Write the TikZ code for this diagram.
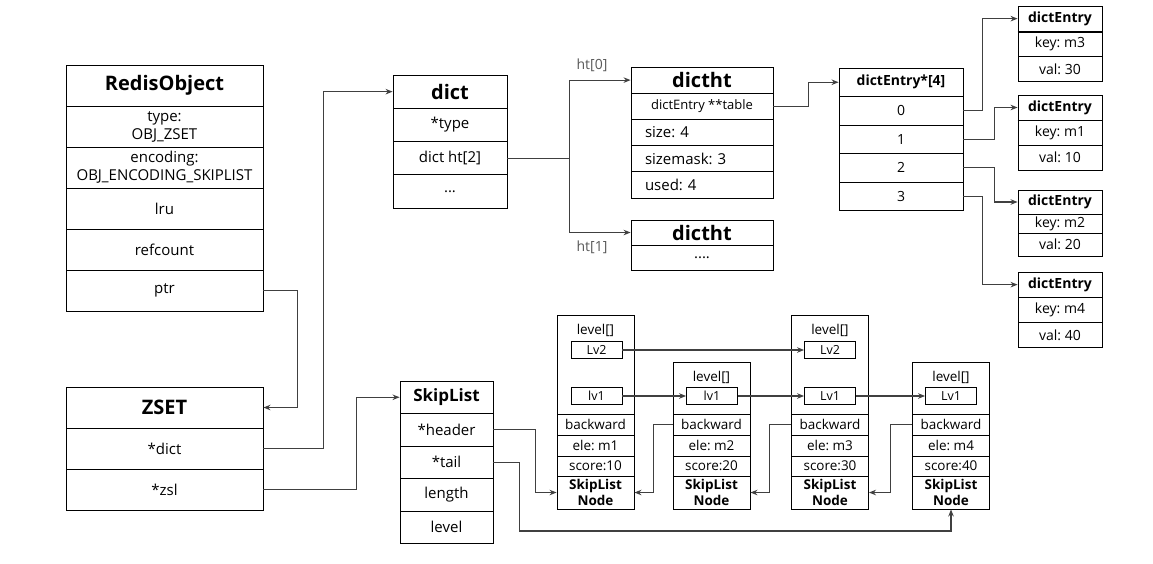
\documentclass[tikz,border=0pt]{standalone}
\usepackage{fontspec}
\setmainfont{Open Sans}
\usetikzlibrary{arrows.meta}
\frenchspacing
\begin{document}
\begin{tikzpicture}[x=1pt,y=-1pt,
  >={Stealth[length=7pt,width=5.5pt]},
  cell/.style={draw, line width=0.9pt, inner sep=0pt, align=center, font=\fontsize{15}{18}\selectfont},
  bighead/.style={font=\bfseries\fontsize{20}{24}\selectfont},
  objcell/.style={cell, minimum width=197, minimum height=41},
  slcell/.style={cell, minimum width=93, minimum height=32.5},
  dictcell/.style={cell, minimum width=114, minimum height=33.3},
  htcell/.style={cell, minimum width=142, minimum height=26.2},
  htleft/.style={htcell, align=left, inner xsep=14pt, text width=114pt},
  arrcell/.style={cell, minimum width=124, minimum height=28.5, font=\fontsize{14}{17}\selectfont},
  entcell/.style={cell, minimum width=84, minimum height=25.3, font=\fontsize{14}{17}\selectfont},
  enthead/.style={font=\bfseries\fontsize{14}{17}\selectfont},
  nodecell/.style={cell, minimum width=77, font=\fontsize{13.5}{16}\selectfont},
  lvcell/.style={cell, minimum width=51, minimum height=17, font=\fontsize{12.5}{15}\selectfont},
  link/.style={draw=black!75, line width=1.1pt},
  txt/.style={inner sep=0pt, font=\fontsize{14}{17}\selectfont}
]
\useasboundingbox (0,0) rectangle (1153,563);

% RedisObject
\node[objcell, bighead] (robj) at (164.5,85.5) {RedisObject};
\node[objcell] (rtype) at (164.5,126.5) {type:\\OBJ\_ZSET};
\node[objcell] (renc) at (164.5,167.5) {encoding:\\OBJ\_ENCODING\_SKIPLIST};
\node[objcell] (rlru) at (164.5,208.5) {lru};
\node[objcell] (rref) at (164.5,249.5) {refcount};
\node[objcell] (rptr) at (164.5,290.5) {ptr};

% ZSET
\node[objcell, bighead] (zset) at (164.5,407.5) {ZSET};
\node[objcell] (zdict) at (164.5,448.5) {*dict};
\node[objcell] (zzsl) at (164.5,489.5) {*zsl};

% SkipList
\node[slcell, font=\bfseries\fontsize{17}{20}\selectfont] (slist) at (446.5,397.25) {SkipList};
\node[slcell] (slhead) at (446.5,429.75) {*header};
\node[slcell] (sltail) at (446.5,462.25) {*tail};
\node[slcell] (sllen) at (446.5,494.75) {length};
\node[slcell] (sllvl) at (446.5,527.25) {level};

% dict
\node[dictcell, bighead] (dict) at (450,91.65) {dict};
\node[dictcell] (dtype) at (450,124.95) {*type};
\node[dictcell] (dht) at (450,158.25) {dict ht[2]};
\node[dictcell] (dmore) at (450,191.55) {...};

% dictht
\node[htcell, bighead] (ht0) at (702,80.1) {dictht};
\node[htcell, font=\fontsize{13}{16}\selectfont] (httable) at (702,106.3) {dictEntry **table};
\node[htleft] (htsize) at (702,132.5) {size: 4};
\node[htleft] (htmask) at (702,158.7) {sizemask: 3};
\node[htleft] (htused) at (702,184.9) {used: 4};
\node[htcell, minimum height=25, bighead] (ht1) at (702,232.5) {dictht};
\node[htcell, minimum height=25] (ht1more) at (702,257.5) {....};
\node[txt, text=black!65] (ht0lbl) at (592,65) {ht[0]};
\node[txt, text=black!65] (ht1lbl) at (592,247) {ht[1]};

% dictEntry*[4]
\node[arrcell, enthead] (tbl) at (901,82.25) {dictEntry*[4]};
\node[arrcell] (slot0) at (901,110.75) {0};
\node[arrcell] (slot1) at (901,139.25) {1};
\node[arrcell] (slot2) at (901,167.75) {2};
\node[arrcell] (slot3) at (901,196.25) {3};

% dictEntry
\node[entcell, enthead] (ent3) at (1060,18.65) {dictEntry};
\node[entcell] (ent3k) at (1060,43.95) {key: m3};
\node[entcell] (ent3v) at (1060,69.25) {val: 30};
\node[entcell, minimum height=25, enthead] (ent1) at (1060,107.5) {dictEntry};
\node[entcell, minimum height=25] (ent1k) at (1060,132.5) {key: m1};
\node[entcell, minimum height=25] (ent1v) at (1060,157.5) {val: 10};
\node[entcell, minimum height=24, enthead] (ent2) at (1060,202) {dictEntry};
\node[entcell, minimum height=19] (ent2k) at (1060,223.5) {key: m2};
\node[entcell, minimum height=23] (ent2v) at (1060,244.5) {val: 20};
\node[entcell, enthead] (ent4) at (1060,284.65) {dictEntry};
\node[entcell] (ent4k) at (1060,309.95) {key: m4};
\node[entcell] (ent4v) at (1060,335.25) {val: 40};
\draw[line width=1.8pt] (ent3.south west) -- (ent3.south east);
\draw[line width=1.8pt] (ent1.south west) -- (ent1.south east);

% skiplist nodes
\node[nodecell, minimum height=99] (n1lvl) at (595.5,364.5) {};
\node[nodecell, minimum height=52] (n2lvl) at (711.5,388) {};
\node[nodecell, minimum height=99] (n3lvl) at (830,364.5) {};
\node[nodecell, minimum height=52] (n4lvl) at (951,388) {};
\node[txt, font=\fontsize{13.5}{16}\selectfont] (n1lbl) at (595.5,330) {level[]};
\node[txt, font=\fontsize{13.5}{16}\selectfont] (n2lbl) at (711.5,377) {level[]};
\node[txt, font=\fontsize{13.5}{16}\selectfont] (n3lbl) at (830,330) {level[]};
\node[txt, font=\fontsize{13.5}{16}\selectfont] (n4lbl) at (951,377) {level[]};
\node[lvcell] (n1lv2) at (596.5,350) {Lv2};
\node[lvcell] (n1lv1) at (596.5,396) {lv1};
\node[lvcell] (n2lv1) at (712,396) {lv1};
\node[lvcell] (n3lv2) at (830,350) {Lv2};
\node[lvcell] (n3lv1) at (830,396) {Lv1};
\node[lvcell] (n4lv1) at (951,396) {Lv1};
\node[nodecell, minimum height=21] (n1back) at (595.5,424.5) {backward};
\node[nodecell, minimum height=21] (n1ele) at (595.5,445.5) {ele: m1};
\node[nodecell, minimum height=20] (n1score) at (595.5,466) {score:10};
\node[nodecell, minimum height=33, font=\bfseries\fontsize{13.5}{16}\selectfont] (n1) at (595.5,492.5) {SkipList\\Node};
\node[nodecell, minimum height=21] (n2back) at (711.5,424.5) {backward};
\node[nodecell, minimum height=21] (n2ele) at (711.5,445.5) {ele: m2};
\node[nodecell, minimum height=20] (n2score) at (711.5,466) {score:20};
\node[nodecell, minimum height=33, font=\bfseries\fontsize{13.5}{16}\selectfont] (n2) at (711.5,492.5) {SkipList\\Node};
\node[nodecell, minimum height=21] (n3back) at (830,424.5) {backward};
\node[nodecell, minimum height=21] (n3ele) at (830,445.5) {ele: m3};
\node[nodecell, minimum height=20] (n3score) at (830,466) {score:30};
\node[nodecell, minimum height=33, font=\bfseries\fontsize{13.5}{16}\selectfont] (n3) at (830,492.5) {SkipList\\Node};
\node[nodecell, minimum height=21] (n4back) at (951,424.5) {backward};
\node[nodecell, minimum height=21] (n4ele) at (951,445.5) {ele: m4};
\node[nodecell, minimum height=20] (n4score) at (951,466) {score:40};
\node[nodecell, minimum height=33, font=\bfseries\fontsize{13.5}{16}\selectfont] (n4) at (951,492.5) {SkipList\\Node};

% connectors
\path[link,->] (rptr.east) -- ++(34,0) |- (zset.east);
\path[link,->] (zdict.east) -- ++(60,0) |- (dict.west);
\path[link,->] (zzsl.east) -- ++(93,0) |- (slist.west);
\path[link] (dht.east) -- ++(62,0) coordinate (htfork);
\path[link,->] (htfork) |- (ht0.west);
\path[link,->] (htfork) |- (ht1.west);
\path[link,->] (httable.east) -- ++(35,0) |- (tbl.west);
\path[link,->] (slot0.east) -- ++(19,0) |- (ent3.west);
\path[link,->] (slot1.east) -- ++(31,0) |- (ent1.west);
\path[link,->] (slot2.east) -- ++(31,0) |- (ent2.west);
\path[link,->] (slot3.east) -- ++(19,0) |- (ent4.west);
\path[link,->] (n1lv2) -- (n3lv2);
\path[link,->] (n1lv1) -- (n2lv1);
\path[link,->] (n2lv1) -- (n3lv1);
\path[link,->] (n3lv1) -- (n4lv1);
\path[link,->] (n2back.west) -- ++(-19,0) |- (n1.east);
\path[link,->] (n3back.west) -- ++(-22,0) |- (n2.east);
\path[link,->] (n4back.west) -- ++(-22,0) |- (n3.east);
\path[link,->] (slhead.east) -- ++(42,0) |- (n1.west);
\path[link,->] (sltail.east) -- ++(26,0) -- ++(0,68.75) -| (n4.south);
\end{tikzpicture}
\end{document}
